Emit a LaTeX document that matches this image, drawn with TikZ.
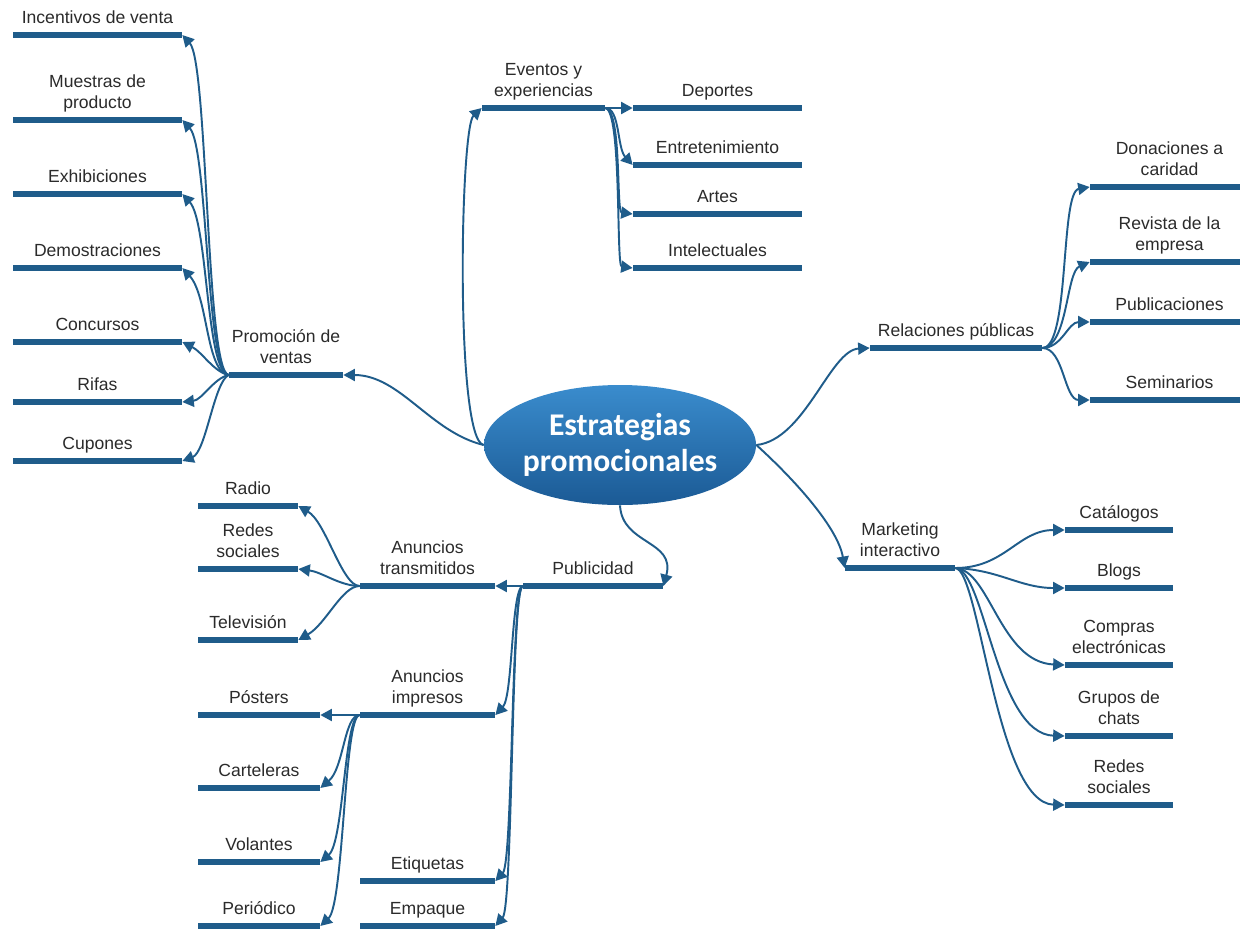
\documentclass[tikz,border=0pt]{standalone}
\usepackage{fontspec}
\setmainfont{Liberation Sans}
\newfontfamily\hubfont{Carlito}
\usetikzlibrary{arrows.meta,shapes.geometric}

\definecolor{bc}{HTML}{1F5C8A}
\definecolor{tc}{HTML}{2B2B2B}
\definecolor{htop}{HTML}{3A8CCD}
\definecolor{hbot}{HTML}{1B5A95}

\begin{document}
\begin{tikzpicture}[x=0.02cm,y=-0.02cm,
  bar/.style={fill=bc, inner sep=0pt, minimum height=0.115cm, minimum width=#1*0.02cm},
  lab/.style={font=\fontsize{10}{11.8}\selectfont, text=tc, align=center,
              inner sep=0pt, text depth=2.5pt, anchor=south},
  link/.style={draw=bc, line width=1.1pt,
               -{Triangle[length=0.23cm,width=0.24cm]}},
]
\fill[white] (0,0) rectangle (1240,930);
\useasboundingbox (0,0) rectangle (1240,930);

% central topic: fixed-size ellipse with its title on top
\node[ellipse, inner sep=0pt, minimum width=272*0.02cm, minimum height=120*0.02cm,
      top color=htop, bottom color=hbot] (hub) at (620,445) {};
\node[text=white, align=center, inner sep=0pt,
      font=\hubfont\bfseries\fontsize{18}{20.5}\selectfont] (hub-t) at (hub.center)
      {Estrategias\\promocionales};

% ---------- Promocion de ventas ----------
\node[bar=114] (pv) at (286,375) {};
\node[lab] (pv-t) at ([yshift=2pt]pv.north) {Promoción de\\ventas};
\foreach \n/\y/\t in {inc/35/{Incentivos de venta}, mue/120/{Muestras de\\producto},
                      exh/194/Exhibiciones, dem/268/Demostraciones, con/342/Concursos,
                      rif/402/Rifas, cup/461/Cupones}{
  \node[bar=169] (\n) at (97.5,\y) {};
  \node[lab] (\n-t) at ([yshift=2pt]\n.north) {\t};
}

% ---------- Eventos y experiencias ----------
\node[bar=123] (ev) at (543.5,108) {};
\node[lab] (ev-t) at ([yshift=2pt]ev.north) {Eventos y\\experiencias};
\foreach \n/\y/\t in {dep/108/Deportes, ent/165/Entretenimiento, art/214/Artes,
                      int/268/Intelectuales}{
  \node[bar=169] (\n) at (717.5,\y) {};
  \node[lab] (\n-t) at ([yshift=2pt]\n.north) {\t};
}

% ---------- Relaciones publicas ----------
\node[bar=172] (rp) at (956,348) {};
\node[lab] (rp-t) at ([yshift=2pt]rp.north) {Relaciones públicas};
\foreach \n/\y/\t in {don/187/{Donaciones a\\caridad}, rev/262/{Revista de la\\empresa},
                      pub/322/Publicaciones, sem/400/Seminarios}{
  \node[bar=152] (\n) at (1166,\y) {};
  \node[lab] (\n-t) at ([xshift=2pt,yshift=2pt]\n.north) {\t};
}

% ---------- Marketing interactivo ----------
\node[bar=110] (mi) at (900,568) {};
\node[lab] (mi-t) at ([yshift=2pt]mi.north) {Marketing\\interactivo};
\foreach \n/\y/\t in {cat/530/Catálogos, blo/588/Blogs, com/665/{Compras\\electrónicas},
                      gru/736/{Grupos de\\chats}, red/805/{Redes\\sociales}}{
  \node[bar=108] (\n) at (1119,\y) {};
  \node[lab] (\n-t) at ([yshift=2pt]\n.north) {\t};
}

% ---------- Publicidad ----------
\node[bar=140] (pu) at (593,586) {};
\node[lab] (pu-t) at ([yshift=2pt]pu.north) {Publicidad};
\node[bar=135] (at) at (427.5,586) {};
\node[lab] (at-t) at ([yshift=2pt]at.north) {Anuncios\\transmitidos};
\node[bar=135] (ai) at (427.5,715) {};
\node[lab] (ai-t) at ([yshift=2pt]ai.north) {Anuncios\\impresos};
\node[bar=135] (eti) at (427.5,881) {};
\node[lab] (eti-t) at ([yshift=2pt]eti.north) {Etiquetas};
\node[bar=135] (emp) at (427.5,926) {};
\node[lab] (emp-t) at ([yshift=2pt]emp.north) {Empaque};
\foreach \n/\y/\t in {rad/506/Radio, rs/569/{Redes\\sociales}, tel/640/Televisión}{
  \node[bar=100] (\n) at (248,\y) {};
  \node[lab] (\n-t) at ([yshift=2pt]\n.north) {\t};
}
\foreach \n/\y/\t in {pos/715/Pósters, car/788/Carteleras, vol/862/Volantes,
                      per/926/Periódico}{
  \node[bar=122] (\n) at (259,\y) {};
  \node[lab] (\n-t) at ([yshift=2pt]\n.north) {\t};
}

% ---------- connectors from the central topic ----------
\draw[link] (hub.west) .. controls (430,432) and (400,375) .. (pv.east);
\draw[link] (hub.west) .. controls (455,440) and (460,128) .. (ev.west);
\draw[link] (hub.east) .. controls (805,440) and (830,350) .. (rp.west);
\draw[link] (hub.east) .. controls (795,480) and (838,528) .. (mi.west);
\draw[link] (hub.south) .. controls (622,545) and (676,540) .. (pu.east);

% promocion de ventas
\foreach \n/\y in {inc/35, mue/120, exh/194, dem/268}{
  \draw[link] (pv.west) .. controls (206,372) and (208,\y+28) .. (\n.east);
}
\draw[link] (pv.west) .. controls (214,372) and (202,352) .. (con.east);
\draw[link] (pv.west) .. controls (214,378) and (202,400) .. (rif.east);
\draw[link] (pv.west) .. controls (214,382) and (206,452) .. (cup.east);

% eventos y experiencias
\draw[link] (ev.east) -- (dep.west);
\draw[link] (ev.east) .. controls (620,108) and (617,148) .. (ent.west);
\foreach \n/\y in {art/214, int/268}{
  \draw[link] (ev.east) .. controls (622,110) and (616,\y-2) .. (\n.west);
}

% relaciones publicas
\draw[link] (rp.east) .. controls (1070,348) and (1060,192) .. (don.west);
\draw[link] (rp.east) .. controls (1068,346) and (1066,272) .. (rev.west);
\draw[link] (rp.east) .. controls (1062,348) and (1068,322) .. (pub.west);
\draw[link] (rp.east) .. controls (1064,348) and (1064,400) .. (sem.west);

% marketing interactivo
\draw[link] (mi.east) .. controls (1005,568) and (1018,530) .. (cat.west);
\draw[link] (mi.east) .. controls (1000,570) and (1020,588) .. (blo.west);
\draw[link] (mi.east) .. controls (990,570) and (1000,662) .. (com.west);
\draw[link] (mi.east) .. controls (985,570) and (996,734) .. (gru.west);
\draw[link] (mi.east) .. controls (980,570) and (996,803) .. (red.west);

% publicidad
\draw[link] (pu.west) -- (at.east);
\draw[link] (pu.west) .. controls (511,590) and (513,696) .. (ai.east);
\draw[link] (pu.west) .. controls (511,590) and (513,862) .. (eti.east);
\draw[link] (pu.west) .. controls (511,590) and (513,906) .. (emp.east);

% anuncios transmitidos
\draw[link] (at.west) .. controls (342,586) and (326,522) .. (rad.east);
\draw[link] (at.west) .. controls (340,586) and (322,572) .. (rs.east);
\draw[link] (at.west) .. controls (342,586) and (326,624) .. (tel.east);

% anuncios impresos
\draw[link] (ai.west) -- (pos.east);
\draw[link] (ai.west) .. controls (344,715) and (344,768) .. (car.east);
\draw[link] (ai.west) .. controls (344,715) and (344,842) .. (vol.east);
\draw[link] (ai.west) .. controls (344,715) and (344,904) .. (per.east);
\end{tikzpicture}
\end{document}
